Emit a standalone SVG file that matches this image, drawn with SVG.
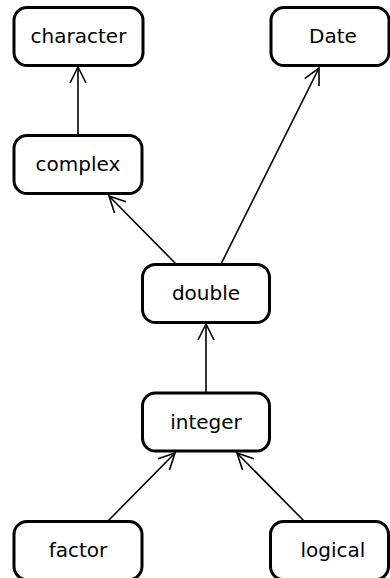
<svg xmlns="http://www.w3.org/2000/svg" width="390" height="578" viewBox="0 0 390 578">
  <style>
    .node rect { fill: #ffffff; stroke: #000000; stroke-width: 3; }
    .node text { font-family: "DejaVu Sans", sans-serif; font-size: 20px; fill: #000000; text-anchor: middle; dominant-baseline: central; }
    .edge { stroke: #000000; stroke-width: 1.6; fill: none; marker-end: url(#arrow); }
  </style>
  <defs>
    <marker id="arrow" markerUnits="userSpaceOnUse" markerWidth="20" markerHeight="20" viewBox="-17 -10 20 20" refX="0" refY="0" orient="auto">
      <path d="M-16,-8 L0,0 L-16,8" fill="none" stroke="#000000" stroke-width="1.6"/>
    </marker>
  </defs>

  <!-- connectors -->
  <g id="edges">
    <line class="edge" x1="78" y1="135" x2="78" y2="67"/>
    <line class="edge" x1="176" y1="264" x2="109" y2="196"/>
    <line class="edge" x1="221" y1="264" x2="319" y2="68"/>
    <line class="edge" x1="206" y1="393" x2="206" y2="324"/>
    <line class="edge" x1="108" y1="521" x2="175" y2="453"/>
    <line class="edge" x1="304" y1="521" x2="237" y2="453"/>
  </g>

  <!-- nodes -->
  <g id="character" class="node">
    <rect x="14" y="7.5" width="129" height="58" rx="13"/>
    <text x="78.5" y="36">character</text>
  </g>
  <g id="Date" class="node">
    <rect x="271" y="7.5" width="118" height="58" rx="13"/>
    <text x="333" y="36">Date</text>
  </g>
  <g id="complex" class="node">
    <rect x="14" y="135.5" width="128" height="58" rx="13"/>
    <text x="78" y="164">complex</text>
  </g>
  <g id="double" class="node">
    <rect x="142.5" y="264.5" width="127" height="58" rx="13"/>
    <text x="206" y="293">double</text>
  </g>
  <g id="integer" class="node">
    <rect x="142.5" y="393" width="127" height="58" rx="13"/>
    <text x="206" y="421.5">integer</text>
  </g>
  <g id="factor" class="node">
    <rect x="14" y="521.5" width="128" height="58" rx="13"/>
    <text x="78" y="550">factor</text>
  </g>
  <g id="logical" class="node">
    <rect x="270.5" y="521.5" width="118" height="58" rx="13"/>
    <text x="333" y="550">logical</text>
  </g>
</svg>
